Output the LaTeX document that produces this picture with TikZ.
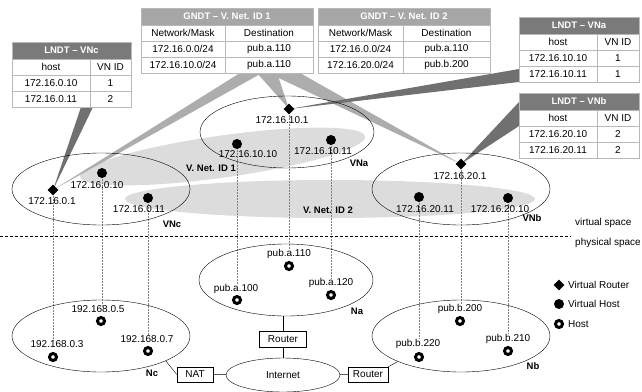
\documentclass[tikz,border=0pt]{standalone}
\usepackage{fontspec}
\setmainfont{Liberation Sans}
\usetikzlibrary{shapes.geometric,backgrounds}

\definecolor{lndtgray}{HTML}{7A7A7A}
\definecolor{gndtgray}{HTML}{A6A6A6}
\definecolor{wedgedark}{HTML}{707070}
\definecolor{wedgelight}{HTML}{ADADAD}
\definecolor{vnetgray}{HTML}{DCDCDC}
\definecolor{tabline}{HTML}{B8B8B8}

\tikzset{
  net/.style={draw, ellipse, minimum width=178pt, minimum height=72pt, inner sep=0pt},
  vrouter/.style={diamond, fill=black, minimum size=11pt, inner sep=0pt},
  vhost/.style={circle, fill=black, minimum size=10pt, inner sep=0pt},
  phost/.style={circle, draw, line width=3pt, fill=white, minimum size=7pt, inner sep=0pt},
  addr/.style={font=\fontsize{10}{11}\selectfont, inner sep=0pt},
  netname/.style={font=\bfseries\fontsize{9.5}{10}\selectfont, inner sep=0pt},
  devbox/.style={draw, fill=white, inner sep=0pt, font=\fontsize{10}{11}\selectfont},
  cell/.style={draw=tabline, fill=white, minimum height=16pt, inner sep=0pt, font=\fontsize{10}{11}\selectfont},
  lhead/.style={draw=tabline, fill=lndtgray, text=white, minimum height=17pt, inner sep=0pt, font=\bfseries\fontsize{9.5}{10}\selectfont},
  ghead/.style={lhead, fill=gndtgray},
  vlink/.style={draw=gray, dash pattern=on 2pt off 1pt, line width=0.4pt},
}

\begin{document}
\begin{tikzpicture}[x=1pt,y=-1pt]
\useasboundingbox (0,0) rectangle (642,391);

% virtual space
\node[net] (vnc) at (101,189) {};
\node[net, minimum width=174pt] (vna) at (287,132) {};
\node[net] (vnb) at (461,189) {};

\node[vrouter] (vrc) at (53,190) {};
\node[addr] (vrclab) at (52,201) {172.16.0.1};
\node[vhost] (vhc1) at (102,173) {};
\node[addr] (vhc1lab) at (97,185) {172.16.0.10};
\node[vhost] (vhc2) at (148,198) {};
\node[addr] (vhc2lab) at (139,209) {172.16.0.11};
\node[netname] (vnclab) at (172,224) {VNc};

\node[vrouter] (vra) at (289,109) {};
\node[addr] (vralab) at (282,120) {172.16.10.1};
\node[vhost] (vha1) at (237,144) {};
\node[addr] (vha1lab) at (248,154) {172.16.10.10};
\node[vhost] (vha2) at (331,140) {};
\node[addr] (vha2lab) at (323,151) {172.16.10.11};
\node[netname] (vnalab) at (359,163) {VNa};

\node[vrouter] (vrb) at (461,164) {};
\node[addr] (vrblab) at (460,176) {172.16.20.1};
\node[vhost] (vhb1) at (419,197) {};
\node[addr] (vhb1lab) at (425,209) {172.16.20.11};
\node[vhost] (vhb2) at (508,198) {};
\node[addr] (vhb2lab) at (500,209) {172.16.20.10};
\node[netname] (vnblab) at (532,218) {VNb};

\node[netname] (id1) at (211,168) {V. Net. ID 1};
\node[netname] (id2) at (328,210) {V. Net. ID 2};

% physical space
\node[net] (nc) at (101,336) {};
\node[net, minimum width=174pt] (na) at (286,280) {};
\node[net] (nb) at (461,336) {};

\node[phost] (hc1) at (53,357) {};
\node[addr] (hc1lab) at (57,344) {192.168.0.3};
\node[phost] (hc2) at (101,321) {};
\node[addr] (hc2lab) at (98,309) {192.168.0.5};
\node[phost] (hc3) at (148,351) {};
\node[addr] (hc3lab) at (147,339) {192.168.0.7};
\node[netname] (nclab) at (152,373) {Nc};

\node[phost] (ha1) at (237,300) {};
\node[addr] (ha1lab) at (236,289) {pub.a.100};
\node[phost] (ha2) at (289,266) {};
\node[addr] (ha2lab) at (289,254) {pub.a.110};
\node[phost] (ha3) at (331,295) {};
\node[addr] (ha3lab) at (331,283) {pub.a.120};
\node[netname] (nalab) at (357,311) {Na};

\node[phost] (hb1) at (419,357) {};
\node[addr] (hb1lab) at (418,344) {pub.b.220};
\node[phost] (hb2) at (460,321) {};
\node[addr] (hb2lab) at (460,309) {pub.b.200};
\node[phost] (hb3) at (508,351) {};
\node[addr] (hb3lab) at (508,339) {pub.b.210};
\node[netname] (nblab) at (533,366) {Nb};

\node[devbox, minimum width=47pt, minimum height=16pt] (routerA) at (283,339) {Router};
\node[devbox, ellipse, minimum width=114pt, minimum height=34pt] (inet) at (283,375) {Internet};
\node[devbox, minimum width=40pt, minimum height=15pt] (routerB) at (368,374.5) {Router};
\node[devbox, minimum width=36pt, minimum height=15pt] (nat) at (195,374.5) {NAT};

\draw (na.south -| routerA) -- (routerA.north);
\draw (routerA) -- (inet);
\draw (nat) -- (inet);
\draw (inet) -- (routerB);
\draw (nc.339) -- (nat.west);
\draw (routerB.north east) -- (nb.202);

% separator
\coordinate (sepL) at (0,236);
\coordinate (sepR) at (571,236);
\draw[dash pattern=on 3pt off 2pt] (sepL) -- (sepR);
\node[addr, anchor=west] (vspace) at (575,223) {virtual space};
\node[addr, anchor=west] (pspace) at (575,243) {physical space};

% legend
\node[vrouter] (legvr) at (559,285) {};
\node[addr, anchor=west] (legvrlab) at (568,285) {Virtual Router};
\node[vhost] (legvh) at (559,304) {};
\node[addr, anchor=west] (legvhlab) at (568,304) {Virtual Host};
\node[phost] (legh) at (559,324) {};
\node[addr, anchor=west] (leghlab) at (568,324) {Host};

% tables
\node[ghead, minimum width=172pt] (g1h) at (227,16.5) {GNDT -- V. Net. ID 1};
\node[cell, minimum width=84pt] (g1a1) at (183,33) {Network/Mask};
\node[cell, minimum width=88pt] (g1a2) at (269,33) {Destination};
\node[cell, minimum width=84pt] (g1b1) at (183,49) {172.16.0.0/24};
\node[cell, minimum width=88pt] (g1b2) at (269,49) {pub.a.110};
\node[cell, minimum width=84pt] (g1c1) at (183,65) {172.16.10.0/24};
\node[cell, minimum width=88pt] (g1c2) at (269,65) {pub.a.110};

\node[ghead, minimum width=172pt] (g2h) at (404,16.5) {GNDT -- V. Net. ID 2};
\node[cell, minimum width=85pt] (g2a1) at (360.5,33) {Network/Mask};
\node[cell, minimum width=87pt] (g2a2) at (446.5,33) {Destination};
\node[cell, minimum width=85pt] (g2b1) at (360.5,49) {172.16.0.0/24};
\node[cell, minimum width=87pt] (g2b2) at (446.5,49) {pub.a.110};
\node[cell, minimum width=85pt] (g2c1) at (360.5,65) {172.16.20.0/24};
\node[cell, minimum width=87pt] (g2c2) at (446.5,65) {pub.b.200};

\node[lhead, minimum width=119pt] (lch) at (71.5,50.5) {LNDT -- VNc};
\node[cell, minimum width=78pt] (lca1) at (51,67) {host};
\node[cell, minimum width=41pt] (lca2) at (110.5,67) {VN ID};
\node[cell, minimum width=78pt] (lcb1) at (51,83) {172.16.0.10};
\node[cell, minimum width=41pt] (lcb2) at (110.5,83) {1};
\node[cell, minimum width=78pt] (lcc1) at (51,99) {172.16.0.11};
\node[cell, minimum width=41pt] (lcc2) at (110.5,99) {2};

\node[lhead, minimum width=120pt] (lah) at (579,25.5) {LNDT -- VNa};
\node[cell, minimum width=78pt] (laa1) at (558,42) {host};
\node[cell, minimum width=42pt] (laa2) at (618,42) {VN ID};
\node[cell, minimum width=78pt] (lab1) at (558,58) {172.16.10.10};
\node[cell, minimum width=42pt] (lab2) at (618,58) {1};
\node[cell, minimum width=78pt] (lac1) at (558,74) {172.16.10.11};
\node[cell, minimum width=42pt] (lac2) at (618,74) {1};

\node[lhead, minimum width=120pt] (lbh) at (579,101.5) {LNDT -- VNb};
\node[cell, minimum width=78pt] (lba1) at (558,118) {host};
\node[cell, minimum width=42pt] (lba2) at (618,118) {VN ID};
\node[cell, minimum width=78pt] (lbb1) at (558,134) {172.16.20.10};
\node[cell, minimum width=42pt] (lbb2) at (618,134) {2};
\node[cell, minimum width=78pt] (lbc1) at (558,150) {172.16.20.11};
\node[cell, minimum width=42pt] (lbc2) at (618,150) {2};

\begin{scope}[on background layer]
  % virtual networks
  \fill[vnetgray, rotate around={8:(222.5,156.5)}] (222.5,156.5) ellipse [x radius=144, y radius=21];
  \fill[vnetgray] (330,199) ellipse [x radius=205, y radius=19];
  % callouts
  \fill[wedgedark] (81,107) -- (vrc.center) -- (93,107) -- cycle;
  \fill[wedgelight] (240,73) -- (vrc.center) -- (262,73) -- cycle;
  \fill[wedgelight] (257,73) -- (vra.center) -- (277,73) -- cycle;
  \fill[wedgelight] (268,73) -- (vrb.center) -- (300,73) -- cycle;
  \fill[wedgedark] (519,69) -- (vra.center) -- (519,82) -- cycle;
  \fill[wedgedark] (519,102) -- (vrb.center) -- (519,126) -- cycle;
  % virtual to physical
  \path[vlink] (vrc.center) -- (vrc |- hc1lab.north);
  \path[vlink] (vhc1.center) -- (vhc1 |- hc2lab.north);
  \path[vlink] (vhc2.center) -- (vhc2 |- hc3lab.north);
  \path[vlink] (vra.center) -- (vra |- ha2lab.north);
  \path[vlink] (vha1.center) -- (vha1 |- ha1lab.north);
  \path[vlink] (vha2.center) -- (vha2 |- ha3lab.north);
  \path[vlink] (vrb.center) -- (vrb |- hb2lab.north);
  \path[vlink] (vhb1.center) -- (vhb1 |- hb1lab.north);
  \path[vlink] (vhb2.center) -- (vhb2 |- hb3lab.north);
\end{scope}

\end{tikzpicture}
\end{document}
